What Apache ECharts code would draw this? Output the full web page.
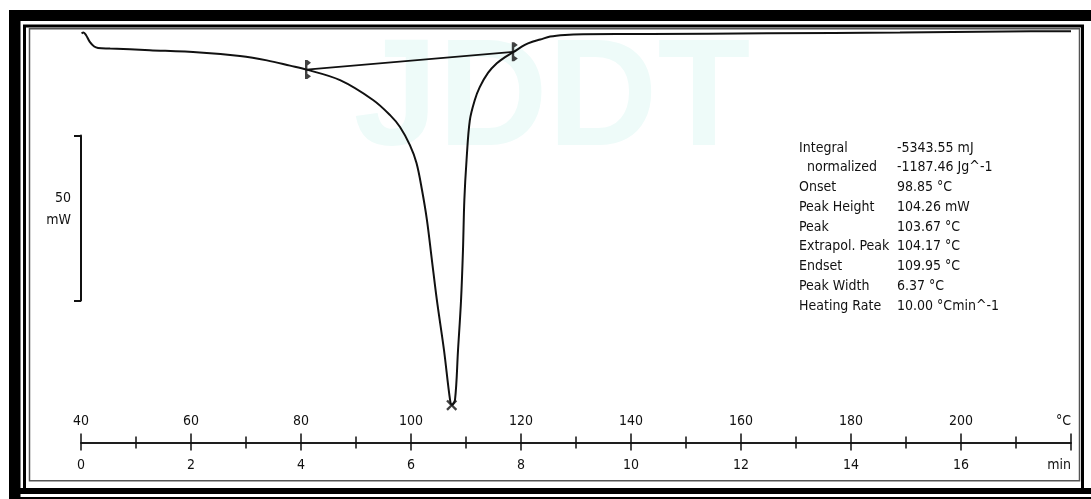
<!DOCTYPE html>
<html><head><meta charset="utf-8">
<script src="https://cdn.jsdelivr.net/npm/echarts@6/dist/echarts.min.js"></script>
<style>html,body{margin:0;padding:0;background:#fff}#c{width:1091px;height:499px}</style>
</head><body><div id="c"></div>
<script>
// ---- data (x in °C, y in mW) ----
const temperature = [40.1, 40.45, 40.9, 41.6, 42.4, 43.1, 45.3, 52.5, 61.6, 68.9, 73.8, 78.0, 81.0, 87.1, 93.1, 96.2, 98.0, 99.8, 101.0, 102.0, 102.9, 103.8, 104.7, 106.0, 107.1, 107.45, 108.0, 108.55, 109.1, 109.45, 109.7, 110.1, 110.7, 111.6, 112.5, 114.0, 115.6, 117.1, 118.6, 120.7, 122.2, 123.5, 125.3, 128.0, 131.3, 143.5, 164.7, 188.9, 208.0, 220.0];
const heatFlow = [-1.0, -0.76, -1.5, -3.6, -5.0, -5.45, -5.6, -6.1, -6.8, -7.9, -9.2, -10.8, -12.0, -15.2, -21.2, -25.8, -29.4, -34.9, -40.3, -48.5, -57.6, -69.7, -81.8, -97.0, -112.1, -113.6, -112.1, -97.0, -81.8, -66.7, -51.5, -39.4, -27.3, -21.2, -17.3, -13.0, -10.1, -8.2, -6.7, -4.5, -3.5, -2.9, -2.0, -1.5, -1.3, -1.2, -1.0, -0.76, -0.45, -0.36];
const baselineT = [81.0, 118.6];
const baselineHF = [-12.0, -6.6];
const peakT = [107.4];
const peakHF = [-113.7];
const tempRange = [40, 220], tempStep = 20, tempUnit = '°C';
const timeRange = [0, 18], timeStep = 2, timeUnit = 'min';
const scaleBarTop = -32, scaleBarSpan = 50, scaleBarLabels = ['50', 'mW'];
const infoLabels = ['Integral', '  normalized', 'Onset', 'Peak Height', 'Peak', 'Extrapol. Peak', 'Endset', 'Peak Width', 'Heating Rate'];
const infoValues = ['-5343.55 mJ', '-1187.46 Jg^-1', '98.85 °C', '104.26 mW', '103.67 °C', '104.17 °C', '109.95 °C', '6.37 °C', '10.00 °Cmin^-1'];

const FONT = '"DejaVu Sans Condensed", "DejaVu Sans", sans-serif';
const INK = '#111';
const Y_MIN = -125, Y_MAX = 0, GRID_TOP = 30, GRID_H = 412.5;

const chart = echarts.init(document.getElementById('c'), null, {renderer: 'canvas'});

const graphics = [
  {type: 'rect', z: -20, shape: {x: 9, y: 10, width: 1100, height: 500}, style: {fill: '#000'}},
  {type: 'rect', z: -19, shape: {x: 20.5, y: 21, width: 1080, height: 467}, style: {fill: '#fff'}},
  {type: 'rect', z: -19, shape: {x: 20.5, y: 494, width: 1080, height: 3}, style: {fill: '#fff'}},
  {type: 'rect', z: -18, shape: {x: 24.5, y: 26, width: 1058, height: 464}, style: {fill: 'none', stroke: '#000', lineWidth: 3}},
  {type: 'rect', z: -18, shape: {x: 29.5, y: 28.8, width: 1050, height: 452}, style: {fill: 'none', stroke: '#555', lineWidth: 1.5}},
  {type: 'text', z: -15, x: 552, y: 103, style: {text: 'JDDT', fill: '#eefbf9', font: 'bold 152px "Liberation Sans", sans-serif', align: 'center', verticalAlign: 'middle'}},
  {type: 'text', z: 10, x: 71, y: 198, style: {text: scaleBarLabels[0], fill: INK, fontSize: 14, fontFamily: FONT, align: 'right', verticalAlign: 'middle'}},
  {type: 'text', z: 10, x: 71, y: 220, style: {text: scaleBarLabels[1], fill: INK, fontSize: 14, fontFamily: FONT, align: 'right', verticalAlign: 'middle'}}
];
infoLabels.forEach((t, i) => {
  graphics.push({type: 'text', z: 10, x: 799, y: 148 + i * 19.75, style: {text: t, fill: INK, fontSize: 14, fontFamily: FONT, align: 'left', verticalAlign: 'middle'}});
  graphics.push({type: 'text', z: 10, x: 897, y: 148 + i * 19.75, style: {text: infoValues[i], fill: INK, fontSize: 14, fontFamily: FONT, align: 'left', verticalAlign: 'middle'}});
});

const axisCommon = {
  type: 'value', position: 'bottom', gridIndex: 0,
  axisLine: {show: true, onZero: false, lineStyle: {color: INK, width: 1.5}},
  splitLine: {show: false},
  minorSplitLine: {show: false}
};

// scale-bar grid: same mW scale as the main plot
const pxPerMW = GRID_H / (Y_MAX - Y_MIN);
const sbTopPx = GRID_TOP + (Y_MAX - scaleBarTop) * pxPerMW;
const sbHeightPx = scaleBarSpan * pxPerMW;

const option = {
  animation: false,
  backgroundColor: 'transparent',
  graphic: graphics,
  grid: [
    {left: 81, right: 20, top: GRID_TOP, height: GRID_H, containLabel: false, outerBoundsMode: 'none'},
    {left: 81, width: 10, top: sbTopPx, height: sbHeightPx, containLabel: false, outerBoundsMode: 'none'}
  ],
  xAxis: [
    Object.assign({}, axisCommon, {
      min: tempRange[0], max: tempRange[1], interval: tempStep,
      axisTick: {show: true, inside: true, length: 9, lineStyle: {color: INK, width: 1.5}},
      minorTick: {show: true, splitNumber: 2, length: 6, lineStyle: {color: INK, width: 1.5}},
      axisLabel: {inside: true, margin: 14, color: INK, fontSize: 14, fontFamily: FONT,
        showMinLabel: true, showMaxLabel: true, alignMaxLabel: 'right',
        formatter: v => v === tempRange[1] ? tempUnit : String(v)}
    }),
    Object.assign({}, axisCommon, {
      min: timeRange[0], max: timeRange[1], interval: timeStep,
      axisTick: {show: true, inside: false, length: 8, lineStyle: {color: INK, width: 1.5}},
      minorTick: {show: true, splitNumber: 2, length: 6, lineStyle: {color: INK, width: 1.5}},
      axisLabel: {inside: false, margin: 16, color: INK, fontSize: 14, fontFamily: FONT,
        showMinLabel: true, showMaxLabel: true, alignMaxLabel: 'right',
        formatter: v => v === timeRange[1] ? timeUnit : String(v)}
    }),
    {type: 'value', gridIndex: 1, min: 0, max: 1, show: false}
  ],
  yAxis: [
    {type: 'value', gridIndex: 0, min: Y_MIN, max: Y_MAX, show: false},
    {type: 'value', gridIndex: 1, min: 0, max: scaleBarSpan, interval: scaleBarSpan, position: 'left',
      axisLine: {show: true, onZero: false, lineStyle: {color: INK, width: 2}},
      axisTick: {show: true, length: 7, lineStyle: {color: INK, width: 2}},
      axisLabel: {show: false}, splitLine: {show: false}}
  ],
  series: [
    {
      type: 'line', xAxisIndex: 0, yAxisIndex: 0, z: 4,
      data: temperature.map((t, i) => [t, heatFlow[i]]),
      showSymbol: false, smooth: 0.35,
      lineStyle: {color: INK, width: 2}
    },
    {
      type: 'line', xAxisIndex: 0, yAxisIndex: 0, z: 4,
      data: baselineT.map((t, i) => [t, baselineHF[i]]),
      showSymbol: false, lineStyle: {color: INK, width: 1.8}
    },
    {
      type: 'scatter', xAxisIndex: 0, yAxisIndex: 0, z: 5,
      data: baselineT.map((t, i) => [t, baselineHF[i]]),
      symbol: 'path://M0,0 L2.2,0 L5.5,2.6 L2.2,5 L2.2,13 L5.5,15.4 L2.2,18 L0,18 Z',
      symbolSize: [6, 19], symbolOffset: [1.5, 0],
      itemStyle: {color: INK}
    },
    {
      type: 'scatter', xAxisIndex: 0, yAxisIndex: 0, z: 5,
      data: peakT.map((t, i) => [t, peakHF[i]]),
      symbol: 'path://M0,1.5 L1.5,0 L5,3.5 L8.5,0 L10,1.5 L6.5,5 L10,8.5 L8.5,10 L5,6.5 L1.5,10 L0,8.5 L3.5,5 Z',
      symbolSize: 11,
      itemStyle: {color: INK}
    }
  ]
};
chart.setOption(option);
</script>
</body></html>
